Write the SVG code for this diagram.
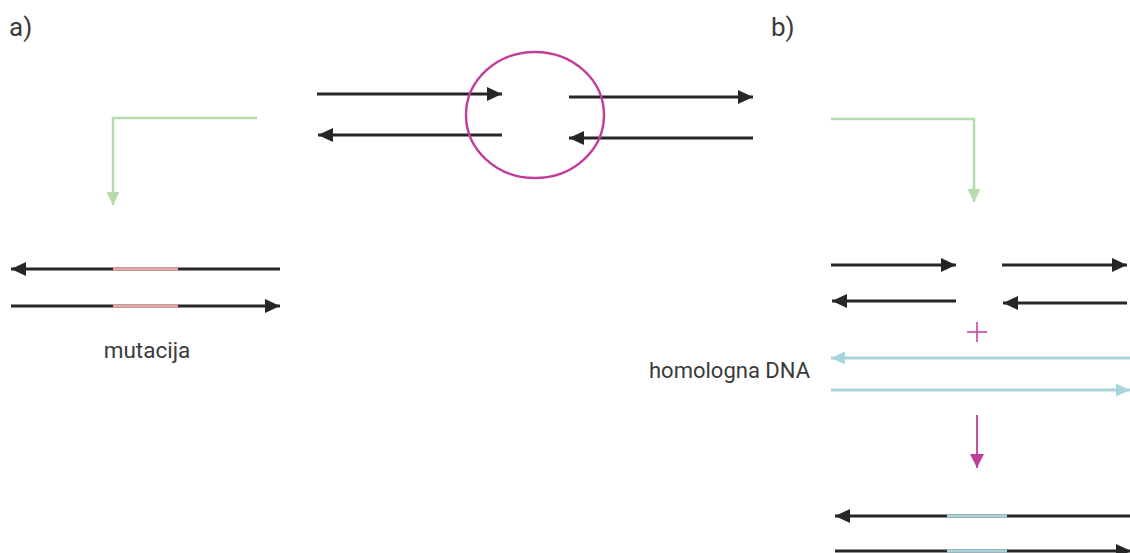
<svg xmlns="http://www.w3.org/2000/svg" width="1130" height="553" viewBox="0 0 1130 553">
  <style>
    .lbl { font-family: Roboto, "Liberation Sans", sans-serif; fill: #3a3a3a; }
    .dna { stroke: #262626; stroke-width: 2.8; fill: none; }
    .mut { stroke: #eba3a3; stroke-width: 2.8; fill: none; }
    .hom { stroke: #a9d4de; stroke-width: 2.8; fill: none; }
    .grn { stroke: #b7dbaa; stroke-width: 2.5; fill: none; }
    .mag { stroke: #c23d9b; fill: none; }
  </style>
  <defs>
    <marker id="hBlack" markerUnits="userSpaceOnUse" viewBox="0 0 15 14" markerWidth="15" markerHeight="14" refX="15" refY="7" orient="auto">
      <path d="M0,0 L15,7 L0,14 z" fill="#262626"/>
    </marker>
    <marker id="hBlue" markerUnits="userSpaceOnUse" viewBox="0 0 14 13" markerWidth="14" markerHeight="13" refX="14" refY="6.5" orient="auto">
      <path d="M0,0 L14,6.5 L0,13 z" fill="#a9d4de"/>
    </marker>
    <marker id="hGreen" markerUnits="userSpaceOnUse" viewBox="0 0 13 13" markerWidth="13" markerHeight="13" refX="13" refY="6.5" orient="auto">
      <path d="M0,0 L13,6.5 L0,13 z" fill="#b7dbaa"/>
    </marker>
    <marker id="hMag" markerUnits="userSpaceOnUse" viewBox="0 0 14 14" markerWidth="14" markerHeight="14" refX="14" refY="7" orient="auto">
      <path d="M0,0 L14,7 L0,14 z" fill="#c23d9b"/>
    </marker>
  </defs>

  <g id="label-a"><text class="lbl" x="9" y="36" font-size="26">a)</text></g>
  <g id="label-b"><text class="lbl" x="771" y="36" font-size="26">b)</text></g>

  <g id="break-dna">
    <line class="dna" x1="317" y1="94" x2="502" y2="94" marker-end="url(#hBlack)"/>
    <line class="dna" x1="502" y1="135" x2="318" y2="135" marker-end="url(#hBlack)"/>
    <line class="dna" x1="569" y1="97" x2="753" y2="97" marker-end="url(#hBlack)"/>
    <line class="dna" x1="753" y1="138" x2="569" y2="138" marker-end="url(#hBlack)"/>
  </g>
  <g id="break-circle">
    <ellipse class="mag" cx="535" cy="115" rx="69" ry="63" stroke-width="2.4"/>
  </g>

  <g id="mutated-dna">
    <line class="dna" x1="280" y1="269" x2="11" y2="269" marker-end="url(#hBlack)"/>
    <line class="mut" x1="113" y1="269" x2="178" y2="269"/>
    <line class="dna" x1="11" y1="306" x2="280" y2="306" marker-end="url(#hBlack)"/>
    <line class="mut" x1="113" y1="306" x2="178" y2="306"/>
  </g>
  <g id="label-mutacija"><text class="lbl" x="147" y="358" font-size="22.5" text-anchor="middle">mutacija</text></g>

  <g id="broken-dna-b">
    <line class="dna" x1="831" y1="265" x2="956" y2="265" marker-end="url(#hBlack)"/>
    <line class="dna" x1="1002" y1="265" x2="1127" y2="265" marker-end="url(#hBlack)"/>
    <line class="dna" x1="956" y1="301" x2="832" y2="301" marker-end="url(#hBlack)"/>
    <line class="dna" x1="1127" y1="303" x2="1003" y2="303" marker-end="url(#hBlack)"/>
  </g>
  <g id="plus">
    <path class="mag" d="M967,332 H987 M977,322 V342" stroke-width="1.5"/>
  </g>
  <g id="homologous-dna">
    <line class="hom" x1="1132" y1="358" x2="831" y2="358" marker-end="url(#hBlue)"/>
    <line class="hom" x1="831" y1="390" x2="1130" y2="390" marker-end="url(#hBlue)"/>
  </g>
  <g id="label-homologna"><text class="lbl" x="649" y="378" font-size="22">homologna DNA</text></g>

  <g id="repaired-dna">
    <line class="dna" x1="1132" y1="516" x2="835" y2="516" marker-end="url(#hBlack)"/>
    <line class="hom" x1="947" y1="516" x2="1007" y2="516"/>
    <line class="dna" x1="835" y1="551" x2="1131" y2="551" marker-end="url(#hBlack)"/>
    <line class="hom" x1="947" y1="551" x2="1007" y2="551"/>
  </g>

  <g id="connectors">
    <polyline class="grn" points="257,118 113,118 113,205" marker-end="url(#hGreen)"/>
    <polyline class="grn" points="831,119 974,119 974,202" marker-end="url(#hGreen)"/>
    <line class="mag" x1="977" y1="415" x2="977" y2="468" stroke-width="1.8" marker-end="url(#hMag)"/>
  </g>
</svg>
